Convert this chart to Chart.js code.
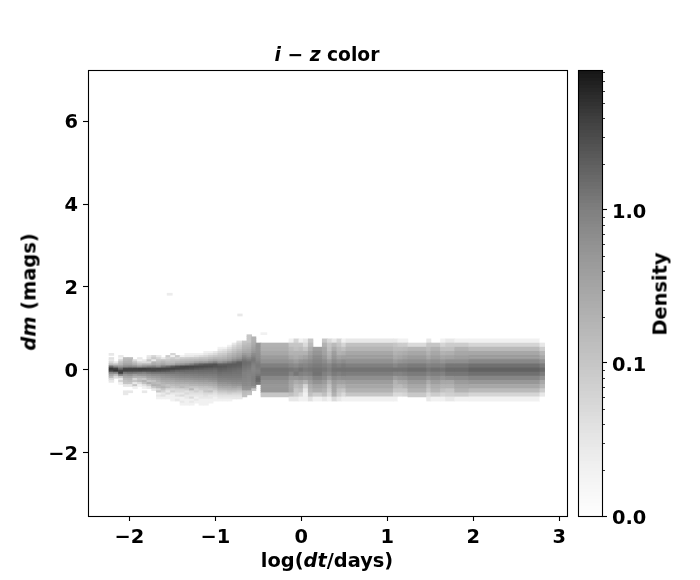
<!DOCTYPE html>
<html lang="en">

<head>
    <meta charset="UTF-8">
    <title>i - z color</title>
    <script src="https://cdn.jsdelivr.net/npm/chart.js"></script>
    <style>
        body { margin: 0; background: #fff; }
        #wrap { position: relative; width: 700px; height: 580px; font: bold 19.4px "DejaVu Sans"; color: #000; }
        canvas { position: absolute; left: 0; top: 0; }
        .lbl { position: absolute; white-space: pre; transform: translate(-50%, -50%); }
        .rot { transform: translate(-50%, -50%) rotate(-90deg); }
    </style>
</head>

<body>
    <div id="wrap">
        <canvas id="mapChart" width="700" height="580"></canvas>
        <canvas id="barChart" width="700" height="580"></canvas>
        <div class="lbl" style="left:327px; top:54px; font-size:18.7px"><i>i − z</i> color</div>
        <div class="lbl" style="left:327px; top:560px">log(<i>dt</i>/days)</div>
        <div class="lbl rot" style="left:29px; top:292px"><i>dm</i> (mags)</div>
        <div class="lbl rot" style="left:660px; top:294px">Density</div>
    </div>

    <script>
        const xTicks = [-2, -1, 0, 1, 2, 3];
        const yTicks = [-2, 0, 2, 4, 6];
        const cbarTicks = [0.01, 0.1, 1];
        const cbarMinor = [0.02, 0.03, 0.04, 0.05, 0.06, 0.07, 0.08, 0.09, 0.2, 0.3, 0.4, 0.5, 0.6, 0.7, 0.8, 0.9, 2, 3, 4, 5, 6, 7, 8];

        // colour scale (position 0..1 -> grey level)
        const cmapPos = [0, 0.1, 0.2, 0.342, 0.5, 0.6, 0.686, 0.79, 0.9, 1];
        const cmapGrey = [255, 242, 226, 198, 168, 148, 128, 95, 60, 22];
        const densMin = 0.01;
        const densMax = 8.2;

        // dm rows are 0.05 mag on the short time lags, 0.1 mag on the long ones
        const rowH = 0.05;

        // short lags: column edges, dm of the top of each column, density going down
        const fineEdges = [-2.236, -2.18, -2.125, -2.07, -2.015, -1.96, -1.905, -1.85, -1.795, -1.74, -1.685, -1.63, -1.575, -1.52, -1.465, -1.41, -1.355, -1.3, -1.245, -1.19, -1.135, -1.08, -1.025, -0.97, -0.915, -0.86, -0.805, -0.75, -0.686, -0.632, -0.577, -0.527, -0.469];
        const fineTops = [0.4, 0.2, 0.35, 0.3, 0.3, 0.25, 0.3, 0.25, 0.35, 0.35, 0.35, 0.3, 0.35, 0.4, 0.35, 0.35, 0.4, 0.4, 0.4, 0.4, 0.45, 0.45, 0.45, 0.55, 0.55, 0.6, 0.65, 0.7, 0.7, 0.85, 0.8, 0.65];
        const fineCols = [
            [.03, 0, .04, .03, .06, .15, 1.5, 4.5, 3.6, .8, .3, .15, .05, .03],
            [.03, .12, .7, 3.8, 4.8, .9, .15, .05],
            [.03, .02, .06, .12, .18, .5, 1.6, 3.5, 3.8, .9, .1, .03, .06, .02],
            [.14, .16, .22, .35, .7, 3.4, 3.6, 1.2, .5, .28, .16, .12, .1, .03, 0, 0, .03, .03],
            [.14, .18, .22, .35, .8, 3.5, 3.4, 1.3, .6, .3, .18, .14, .1, .03, 0, 0, .03],
            [.05, .12, .22, .7, 3.6, 3.3, 1.2, .4, .2, .06, .1, .03, .1, .02],
            [.03, .02, .06, .14, .5, 3.8, 3.4, 1.1, .5, .2, .12, .14, .05, .02],
            [.03, .05, .2, .7, 3.9, 3.2, 1.0, .5, .22, .1, .2, .12, .04, .02, 0, .03],
            [.03, .04, .1, .05, .2, .9, 3.6, 3.1, 1.2, .6, .35, .2, .1, .22, .08, .03],
            [.06, .09, .03, .2, .3, 1.0, 3.4, 3.3, 1.3, .7, .4, .25, .12, .16, .22, .1, .03],
            [.03, .06, .1, .15, .25, .7, 3.6, 3.0, 1.3, .7, .45, .3, .2, .14, .2, .15, .05, .1, .02, .03, .02],
            [.03, .12, .2, .35, 1.2, 3.6, 2.8, 1.3, .8, .55, .4, .28, .2, .15, .2, .1, .06, .03, .04, .02],
            [.08, .06, .1, .15, .25, 1.6, 3.6, 2.6, 1.3, .85, .6, .4, .3, .22, .12, .14, .05, .03, .05, .02, .02],
            [.06, .02, .08, .12, .15, .3, 2.2, 3.6, 2.2, 1.3, .9, .65, .45, .3, .22, .14, .1, .05, .07, .03, .02, .02, .02],
            [.08, .06, .12, .2, .5, 2.8, 3.4, 1.9, 1.2, .95, .7, .5, .35, .24, .16, .12, .06, .05, .03, .04, .02, .03],
            [.02, .08, .14, .22, .6, 3.2, 3.2, 1.8, 1.25, 1.0, .75, .55, .35, .25, .15, .16, .06, .05, .03, .05, .02, .02, .03, .02],
            [.02, .03, .09, .15, .25, .8, 3.4, 3.0, 1.7, 1.3, 1.0, .78, .55, .38, .25, .15, .12, .07, .04, .05, .03, .03, .02, .02, .02],
            [.02, .03, .1, .16, .3, 1.1, 3.4, 2.8, 1.7, 1.3, 1.05, .8, .6, .38, .28, .18, .1, .16, .05, .04, .03, .05, .02, .03, .02],
            [.02, .04, .1, .18, .4, 1.6, 3.2, 2.5, 1.6, 1.3, 1.05, .85, .62, .42, .28, .18, .1, .06, .07, .04, .03, .02, .03, .02],
            [.02, .05, .12, .2, .5, 2.0, 3.1, 2.3, 1.6, 1.35, 1.1, .85, .65, .45, .3, .2, .12, .08, .05, .04, .03, .03, .02, .02, .02],
            [.02, .03, .06, .12, .2, .5, 2.3, 3.0, 2.1, 1.6, 1.3, 1.1, .9, .65, .45, .32, .2, .12, .09, .1, .05, .04, .03, .02, .02, .02],
            [.02, .04, .08, .14, .28, .7, 2.5, 2.9, 2.0, 1.6, 1.3, 1.1, .9, .7, .5, .32, .22, .13, .08, .12, .05, .03, .03, .02, .02],
            [.03, .05, .1, .18, .35, 1.0, 2.7, 2.6, 1.9, 1.5, 1.3, 1.1, .95, .75, .55, .36, .25, .16, .1, .06, .04, .03, .02, .02],
            [.02, .03, .05, .08, .12, .18, .3, .6, 2.0, 2.5, 2.1, 1.8, 1.5, 1.3, 1.1, .95, .8, .6, .42, .28, .17, .1, .06, .04, .03, .02],
            [.02, .04, .06, .09, .14, .2, .35, .8, 2.1, 2.4, 2.0, 1.7, 1.4, 1.25, 1.1, .95, .8, .6, .45, .3, .18, .1, .06, .04, .03, .02],
            [.02, .04, .06, .09, .14, .2, .28, .45, 1.1, 2.2, 2.1, 1.8, 1.6, 1.4, 1.25, 1.1, 1.0, .8, .65, .45, .3, .2, .12, .07, .04, .03, .02],
            [.03, .05, .07, .1, .14, .2, .28, .4, .7, 1.5, 2.2, 2.0, 1.7, 1.5, 1.3, 1.2, 1.1, 1.0, .85, .7, .5, .35, .2, .12, .06, .04, .03],
            [.04, .06, .08, .1, .14, .2, .28, .38, .55, 1.0, 2.0, 2.1, 1.9, 1.6, 1.4, 1.3, 1.2, 1.1, 1.0, .85, .7, .5, .3, .18, .1, .06, .04, .03],
            [.1, .12, .15, .18, .22, .3, .45, .7, 1.0, 1.3, 1.5, 1.45, 1.3, 1.2, 1.1, 1.0, 1.0, .95, .9, .85, .8, .75, .6, .5, .16, .14, .12],
            [.1, .1, .1, .1, .14, .16, .2, .25, .3, .4, .55, .8, 1.1, 1.4, 1.35, 1.2, 1.1, 1.0, .95, .9, .85, .85, .8, .75, .7, .6, .5, .15, .12],
            [.2, .2, .22, .25, .3, .35, .4, .5, .7, .9, 1.1, 1.2, 1.1, 1.0, .9, .85, .85, .9, .95, 1.0, 1.0, .95, .9, .85, .5, .1],
            [.5, .55, .55, .55, .6, .65, .7, .75, .85, 1.0, 1.1, 1.1, 1.05, .95, 1.0, 1.15, 1.5, 1.7, 1.6, 1.2]
        ];

        // long lags: every column runs from dm = 0.75 down to -0.75 in 0.1 mag rows
        const coarseTop = 0.75;
        const coarseEdges = [-0.469, -0.143, -0.085, -0.027, 0.023, 0.081, 0.136, 0.244, 0.302, 0.357, 0.415, 0.47, 0.52, 1.07, 1.124, 1.182, 1.24, 1.458, 1.508, 1.62, 1.68, 1.785, 1.95, 2.775, 2.83];
        const coarseCols = [
            [0, .2, .22, .3, .45, .6, 1.0, 1.3, 1.2, .8, .6, .5, .5, .1, 0],
            [.02, .1, .15, .2, .3, .5, .8, 1.2, .9, .5, .35, .3, .3, .12, .03],
            [.06, .1, .12, .2, .25, .4, .7, 1.1, 1.2, .5, .25, .15, .1, .08, .03],
            [.02, .1, .14, .2, .3, .55, .9, 1.3, 1.0, .6, .3, .18, .12, .05, .02],
            [.03, .05, .1, .2, .35, .6, .85, 1.1, .9, .5, .2, .06, .03, .02, .02],
            [.1, .15, .22, .35, .5, .7, 1.0, 1.2, 1.0, .6, .4, .25, .18, .12, .04],
            [0, 0, .4, .55, .75, .9, 1.1, 1.3, 1.3, .9, .6, .35, .25, .08, .02],
            [.1, .2, .3, .35, .5, .7, 1.0, 1.2, 1.0, .7, .45, .3, .2, .12, .03],
            [.05, .1, .12, .18, .25, .45, .8, 1.0, .8, .4, .2, .12, .08, .05, .02],
            [.03, .15, .25, .4, .55, .75, 1.1, 1.3, 1.1, .7, .45, .35, .3, .2, .05],
            [.06, .1, .15, .2, .35, .6, 1.0, 1.3, 1.0, .6, .35, .2, .12, .08, .03],
            [.02, .06, .12, .22, .4, .7, 1.1, 1.35, 1.1, .65, .35, .2, .1, .05, .02],
            [.03, .12, .18, .3, .42, .6, 1.0, 1.3, 1.05, .65, .42, .3, .2, .1, .02],
            [.03, .1, .14, .2, .28, .45, .8, 1.3, .9, .4, .2, .16, .1, .05, .02],
            [.02, .08, .14, .22, .32, .55, 1.0, 1.3, .9, .5, .28, .15, .1, .05, .01],
            [.02, .08, .15, .25, .38, .6, 1.0, 1.35, 1.0, .55, .3, .2, .1, .06, .01],
            [0, .05, .18, .3, .45, .65, 1.1, 1.5, 1.1, .7, .45, .3, .2, .09, 0],
            [.03, .1, .14, .2, .3, .55, .9, 1.2, .9, .5, .25, .15, .1, .05, .03],
            [0, .1, .2, .3, .42, .65, 1.0, 1.4, 1.05, .65, .4, .25, .18, .08, .02],
            [.02, .06, .12, .2, .32, .55, .95, 1.3, .95, .55, .3, .2, .12, .06, .02],
            [.03, .08, .12, .22, .35, .65, 1.2, 1.6, 1.2, .65, .3, .2, .1, .07, .03],
            [.02, .08, .2, .3, .42, .65, 1.2, 1.6, 1.2, .7, .45, .3, .2, .08, .02],
            [.02, .06, .15, .3, .45, .8, 1.4, 1.9, 1.4, .85, .5, .3, .15, .06, .02],
            [.01, .03, .08, .18, .3, .6, 1.1, 1.6, 1.1, .6, .3, .18, .08, .03, .01]
        ];

        // a few lone faint cells above the main band
        const strayFrom = [-1.56, -0.74, -0.47];
        const strayTo = [-1.5, -0.686, -0.4];
        const strayTop = [1.85, 1.35, 0.9];
        const strayDens = [0.025, 0.03, 0.02];

        function greyFor(d) {
            const f = Math.log10(d / densMin) / Math.log10(densMax / densMin);
            return greyAt(f);
        }

        function greyAt(f) {
            let i = 0;
            while (i < cmapPos.length - 2 && f > cmapPos[i + 1]) i++;
            const t = (f - cmapPos[i]) / (cmapPos[i + 1] - cmapPos[i]);
            const g = Math.round(cmapGrey[i] + (cmapGrey[i + 1] - cmapGrey[i]) * t);
            return `rgb(${g},${g},${g})`;
        }

        function buildCells() {
            const cells = [];
            const add = (x0, x1, k, d) => {
                if (d > 0) cells.push({ x: [x0, x1], y: (k - 0.5) * rowH, d: d });
            };
            fineCols.forEach((col, c) => {
                const k0 = Math.round(fineTops[c] / rowH);
                col.forEach((d, i) => add(fineEdges[c], fineEdges[c + 1], k0 - i, d));
            });
            coarseCols.forEach((col, c) => {
                const k0 = Math.round(coarseTop / rowH);
                col.forEach((d, i) => {
                    add(coarseEdges[c], coarseEdges[c + 1], k0 - 2 * i, d);
                    add(coarseEdges[c], coarseEdges[c + 1], k0 - 2 * i - 1, d);
                });
            });
            strayDens.forEach((d, i) => add(strayFrom[i], strayTo[i], Math.round(strayTop[i] / rowH), d));
            return cells;
        }

        const tickFont = { family: 'DejaVu Sans', size: 19.4, weight: 'bold' };

        // mpl style box round the axes
        const framePlugin = {
            id: 'frame',
            afterDraw(chart) {
                const a = chart.chartArea;
                const c = chart.ctx;
                c.save();
                c.strokeStyle = '#000';
                c.lineWidth = 1.1;
                c.strokeRect(Math.round(a.left) + 0.5, Math.round(a.top) + 0.5, Math.round(a.width), Math.round(a.height));
                c.restore();
            }
        };

        function axisOpts(ticks, min, max) {
            return {
                type: 'linear',
                min: min,
                max: max,
                offset: false,
                afterBuildTicks: (s) => { s.ticks = ticks.map((v) => ({ value: v })); },
                border: { display: false },
                grid: { offset: false, drawOnChartArea: false, tickLength: 5, tickColor: '#000', tickWidth: 1.1 },
                ticks: {
                    color: '#000',
                    font: tickFont,
                    padding: 5,
                    maxRotation: 0,
                    autoSkip: false,
                    callback: (v) => String(v).replace('-', '\u2212')
                }
            };
        }

        const xOpts = axisOpts(xTicks, -2.48, 3.09);
        xOpts.afterFit = (s) => { s.height = 64; };
        const yOpts = axisOpts(yTicks, -3.52, 7.23);
        yOpts.afterFit = (s) => { s.width = 88; };
        // two line label with an empty first line nudges the text down onto the tick
        yOpts.ticks.font = Object.assign({}, tickFont, { lineHeight: '4px' });
        yOpts.ticks.callback = (v) => ['', String(v).replace('-', '\u2212')];

        new Chart(document.getElementById('mapChart'), {
            type: 'bar',
            data: {
                datasets: [{
                    data: buildCells(),
                    backgroundColor: (ctx) => ctx.raw ? greyFor(ctx.raw.d) : '#fff',
                    borderWidth: 0,
                    barPercentage: 1,
                    categoryPercentage: 1
                }]
            },
            options: {
                indexAxis: 'y',
                responsive: false,
                animation: false,
                layout: { padding: { left: 0, top: 70, right: 133, bottom: 0 } },
                scales: { x: xOpts, y: yOpts },
                plugins: { legend: { display: false }, tooltip: { enabled: false } }
            },
            plugins: [framePlugin]
        });

        // colorbar, a single floating bar on a log axis
        function cbarFill(ctx) {
            const a = ctx.chart.chartArea;
            if (!a) return '#888';
            const g = ctx.chart.ctx.createLinearGradient(0, a.bottom, 0, a.top);
            const bands = 128;
            for (let i = 0; i < bands; i++) {
                const col = greyAt((i + 0.5) / bands);
                g.addColorStop(i / bands, col);
                g.addColorStop((i + 0.8) / bands, col);
                g.addColorStop((i + 0.8) / bands, greyAt((i + 1.5) / bands));
                g.addColorStop((i + 1) / bands, greyAt((i + 1.5) / bands));
            }
            return g;
        }

        const minorPlugin = {
            id: 'minorTicks',
            afterDraw(chart) {
                const s = chart.scales.y;
                const c = chart.ctx;
                c.save();
                c.strokeStyle = '#000';
                c.lineWidth = 0.8;
                cbarMinor.forEach((v) => {
                    const y = Math.round(s.getPixelForValue(v)) + 0.5;
                    c.beginPath();
                    c.moveTo(s.left, y);
                    c.lineTo(s.left + 3, y);
                    c.stroke();
                });
                c.restore();
            }
        };

        new Chart(document.getElementById('barChart'), {
            type: 'bar',
            data: {
                labels: ['Density'],
                datasets: [{
                    data: [[densMin, densMax]],
                    backgroundColor: cbarFill,
                    borderWidth: 0,
                    barPercentage: 1,
                    categoryPercentage: 1
                }]
            },
            options: {
                responsive: false,
                animation: false,
                layout: { padding: { left: 578, top: 70, right: 0, bottom: 64 } },
                scales: {
                    x: { display: false },
                    y: {
                        type: 'logarithmic',
                        position: 'right',
                        min: densMin,
                        max: densMax,
                        afterBuildTicks: (s) => { s.ticks = cbarTicks.map((v) => ({ value: v })); },
                        afterFit: (s) => { s.width = 98; },
                        border: { display: false },
                        grid: { drawOnChartArea: false, tickLength: 5, tickColor: '#000', tickWidth: 1.1 },
                        ticks: {
                            color: '#000',
                            font: Object.assign({}, tickFont, { lineHeight: '6px' }),
                            padding: 5,
                            maxRotation: 0,
                            autoSkip: false,
                            callback: (v) => ['', v.toFixed(1)]
                        }
                    }
                },
                plugins: { legend: { display: false }, tooltip: { enabled: false } }
            },
            plugins: [framePlugin, minorPlugin]
        });
    </script>
</body>

</html>
